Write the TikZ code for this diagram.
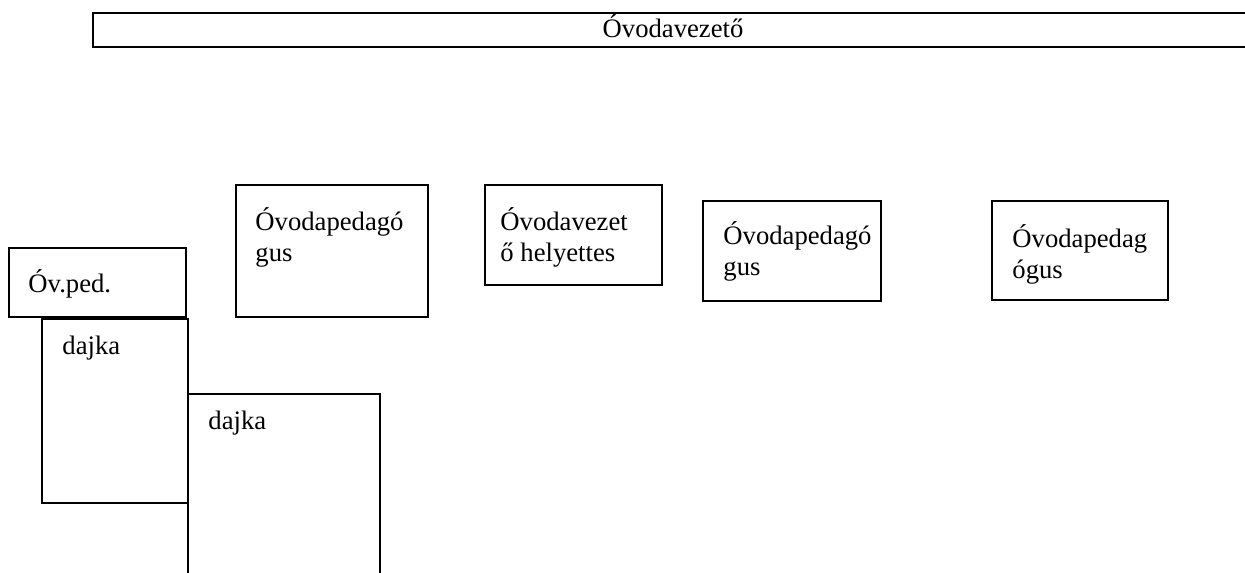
\documentclass[tikz,border=0pt]{standalone}
\usepackage{fontspec}
\setmainfont{Liberation Serif}
\usetikzlibrary{positioning}
\tikzset{
  box/.style={draw,rectangle,line width=0.9pt,anchor=north west,inner sep=0pt},
  txt/.style={anchor=base west,align=left,inner sep=0pt,font=\fontsize{12}{14.2}\selectfont}
}
\begin{document}
\begin{tikzpicture}[x=0.45pt,y=-0.45pt]
  \useasboundingbox (0,0) rectangle (1245,573);
  \clip (0,0) rectangle (1245,573);
  \node (vez) [box,minimum width=523.35pt,minimum height=15.3pt] at (92,12) {};
  \node (vezt) [txt,anchor=base] at ([shift={(581,26)}]vez.north west) {Óvodavezető};
  \node (ovped) [box,minimum width=79.65pt,minimum height=31.05pt] at (8,247) {};
  \node (ovpedt) [txt] at ([shift={(20,46)}]ovped.north west) {Óv.ped.};
  \node (ped1) [box,minimum width=86.4pt,minimum height=59.4pt] at (235,184) {};
  \node (ped1t) [txt] at ([shift={(20,78)}]ped1.north west) {Óvodapedagó\\gus};
  \node (hely) [box,minimum width=79.65pt,minimum height=45pt] at (484,184) {};
  \node (helyt) [txt] at ([shift={(16,78)}]hely.north west) {Óvodavezet\\ő helyettes};
  \node (ped2) [box,minimum width=80.1pt,minimum height=45pt] at (702,200) {};
  \node (ped2t) [txt] at ([shift={(21,76)}]ped2.north west) {Óvodapedagó\\gus};
  \node (ped3) [box,minimum width=79.2pt,minimum height=44.55pt] at (991,200) {};
  \node (ped3t) [txt] at ([shift={(21,79)}]ped3.north west) {Óvodapedag\\ógus};
  \node (dajka1) [box,minimum width=65.7pt,minimum height=82.8pt] at (41,318) {};
  \node (dajka1t) [txt] at ([shift={(21,37)}]dajka1.north west) {dajka};
  \node (dajka2) [box,minimum width=86.4pt,minimum height=112.5pt] at (187,393) {};
  \node (dajka2t) [txt] at ([shift={(21,37)}]dajka2.north west) {dajka};
\end{tikzpicture}
\end{document}
